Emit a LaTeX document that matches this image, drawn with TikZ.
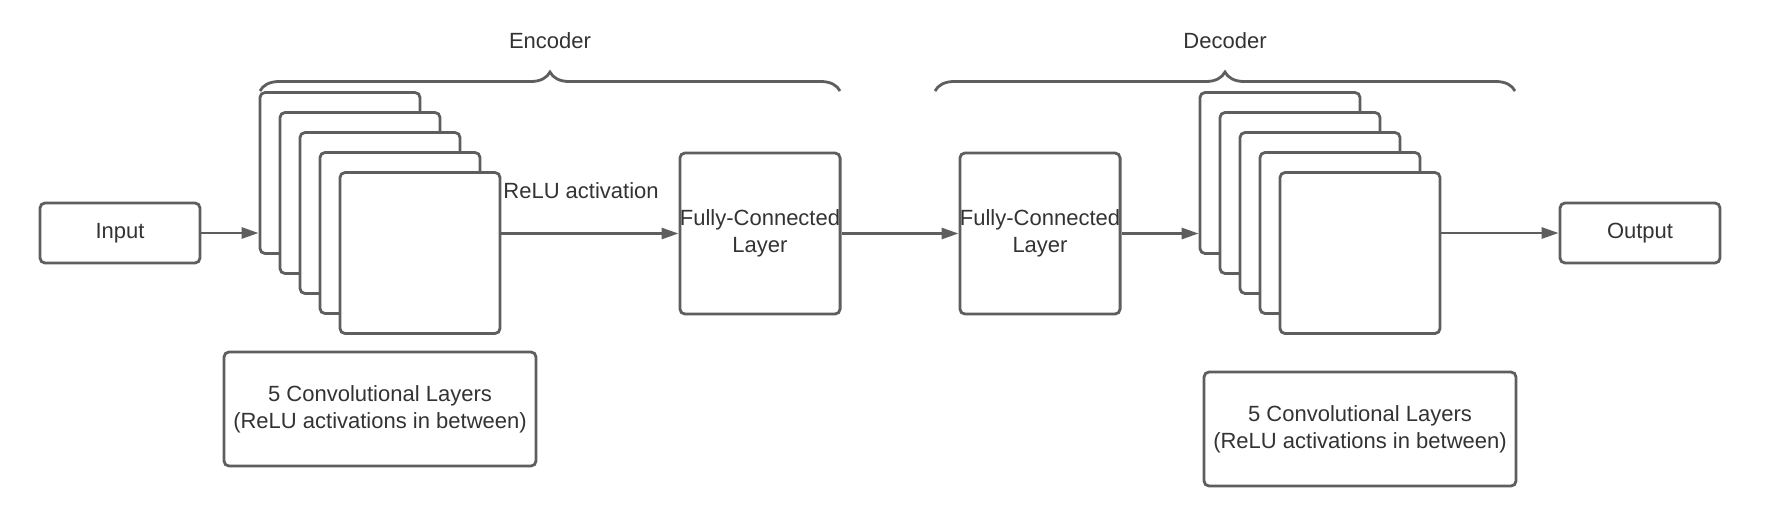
\documentclass[tikz,border=0pt]{standalone}
\usepackage{fontspec}
\setmainfont{Liberation Sans}
\usetikzlibrary{arrows.meta, decorations.pathreplacing}
\definecolor{linegray}{RGB}{94,94,94}
\definecolor{textgray}{RGB}{51,51,51}

\begin{document}
\begin{tikzpicture}
	[x = 0.5pt, y = -0.5pt,
	box/.style={draw=linegray, line width=1.4pt, rounded corners=2.5pt, fill=white, text=textgray, font=\fontsize{11}{13.5}\selectfont, align=center, inner sep=0pt},
	layer/.style={box, minimum width=80pt, minimum height=80.5pt},
	port/.style={box, minimum width=80pt, minimum height=30pt},
	note/.style={box, minimum width=156pt, minimum height=57pt},
	title/.style={text=textgray, font=\fontsize{11}{13.5}\selectfont, inner sep=0pt},
	arrow/.style={-{Triangle[length=8.5pt, width=5.5pt]}, linegray, line width=1.4pt},
	curly/.style={decorate, decoration={brace, amplitude=9.5pt}, linegray, line width=1.4pt}]
	
	% Canvas
	\useasboundingbox (0, 0) rectangle (1781, 526);
	\fill[white] (0, 0) rectangle (1781, 526);
	
	% Draw input and output
	\node[port] (input) at (120, 233) {Input};
	\node[port] (output) at (1640, 233) {Output};
	
	% Draw encoder stack
	\foreach \i in {0, ..., 4}
		\node[layer] (enc\i) at (340 + 20*\i, 173 + 20*\i) {};
	
	% Draw decoder stack
	\foreach \i in {0, ..., 4}
		\node[layer] (dec\i) at (1280 + 20*\i, 173 + 20*\i) {};
	
	% Draw fully-connected layers
	\node[layer] (fc1) at (760, 233.5) {Fully-Connected\\Layer};
	\node[layer] (fc2) at (1040, 233.5) {Fully-Connected\\Layer};
	
	% Draw notes
	\node[note] (encnote) at (380, 409) {5 Convolutional Layers\\(ReLU activations in between)};
	\node[note] (decnote) at (1360, 429) {5 Convolutional Layers\\(ReLU activations in between)};
	
	% Draw braces
	\coordinate (encL) at (260, 91);
	\coordinate (encR) at (840, 91);
	\coordinate (decL) at (935, 91);
	\coordinate (decR) at (1515, 91);
	\draw[curly] (encL) -- (encR);
	\draw[curly] (decL) -- (decR);
	\node[title] (enctitle) at (550, 41) {Encoder};
	\node[title] (dectitle) at (1225, 41) {Decoder};
	
	% Draw arrows
	\draw[arrow] (input.east) -- (input.east -| enc0.west);
	\draw[arrow] (fc1.west -| enc4.east) -- (fc1.west);
	\node[title, anchor=base west] (relu) at (503, 198) {ReLU activation};
	\draw[arrow] (fc1.east) -- (fc2.west);
	\draw[arrow] (fc2.east) -- (fc2.east -| dec0.west);
	\draw[arrow] (output.west -| dec4.east) -- (output.west);
	
\end{tikzpicture}
\end{document}
